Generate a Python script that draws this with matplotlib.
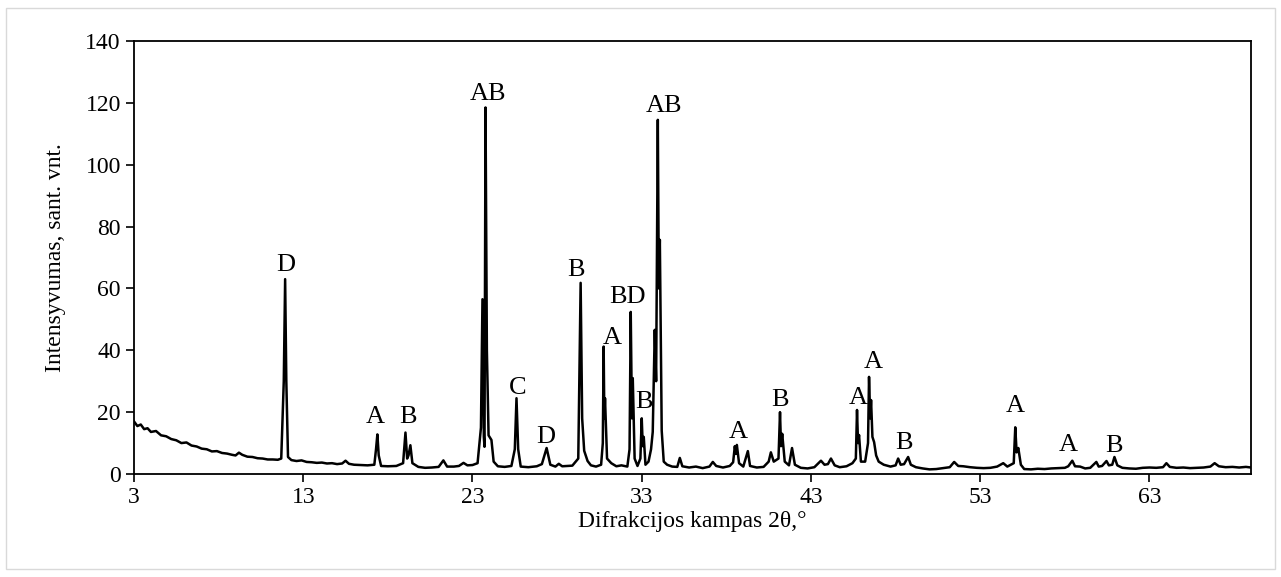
import matplotlib
matplotlib.use("Agg")
import matplotlib.pyplot as plt
from matplotlib.patches import Rectangle

plt.rcParams['font.family'] = ['Liberation Serif', 'DejaVu Serif']

# diffractogram trace (2theta, intensity)
two_theta = [
    3.0, 3.2, 3.4, 3.6, 3.8, 4.0, 4.3, 4.6, 4.9, 5.2, 5.5, 5.8, 6.1, 6.4, 6.7,
    7.0, 7.3, 7.6, 7.9, 8.2, 8.5, 8.8, 9.0, 9.2, 9.4, 9.7, 10.0, 10.3, 10.6,
    10.9, 11.2, 11.5, 11.7, 11.85, 11.93, 12.0, 12.1, 12.3, 12.6, 12.9, 13.2,
    13.5, 13.8, 14.1, 14.4, 14.7, 15.0, 15.3, 15.5, 15.7, 16.0, 16.4, 16.8,
    17.2, 17.3, 17.38, 17.46, 17.6, 18.0, 18.5, 18.9, 19.04, 19.14, 19.22,
    19.33, 19.45, 19.8, 20.2, 20.6, 21.0, 21.28, 21.5, 21.9, 22.2, 22.47,
    22.7, 23.0, 23.3, 23.5, 23.59, 23.67, 23.71, 23.77, 23.85, 23.95, 24.12,
    24.25, 24.5, 24.9, 25.3, 25.5, 25.6, 25.7, 25.85, 26.3, 26.8, 27.1,
    27.38, 27.6, 27.9, 28.1, 28.3, 28.6, 28.9, 29.25, 29.39, 29.48, 29.6,
    29.8, 30.0, 30.3, 30.6, 30.7, 30.75, 30.79, 30.83, 30.95, 31.2, 31.5,
    31.8, 32.15, 32.28, 32.35, 32.42, 32.47, 32.58, 32.75, 32.92, 33.0, 33.06,
    33.12, 33.22, 33.4, 33.55, 33.65, 33.71, 33.77, 33.85, 33.95, 34.01,
    34.07, 34.18, 34.3, 34.5, 34.8, 35.1, 35.25, 35.4, 35.8, 36.2, 36.6,
    37.0, 37.2, 37.4, 37.8, 38.2, 38.4, 38.5, 38.56, 38.62, 38.75, 39.0,
    39.27, 39.4, 39.8, 40.2, 40.5, 40.63, 40.8, 41.08, 41.17, 41.23, 41.3,
    41.45, 41.7, 41.88, 42.05, 42.4, 42.8, 43.2, 43.59, 43.8, 44.0, 44.18,
    44.4, 44.7, 45.1, 45.45, 45.65, 45.72, 45.78, 45.84, 45.95, 46.2, 46.37,
    46.43, 46.5, 46.55, 46.63, 46.73, 46.85, 47.0, 47.3, 47.7, 48.0, 48.15,
    48.3, 48.5, 48.74, 48.9, 49.2, 49.6, 50.0, 50.4, 50.8, 51.2, 51.46, 51.7,
    52.0, 52.4, 52.8, 53.2, 53.6, 54.0, 54.36, 54.6, 54.98, 55.07, 55.15,
    55.25, 55.4, 55.6, 56.0, 56.4, 56.8, 57.2, 57.6, 58.0, 58.2, 58.44, 58.6,
    58.9, 59.2, 59.5, 59.86, 60.0, 60.2, 60.46, 60.6, 60.8, 60.93, 61.1,
    61.4, 61.8, 62.2, 62.6, 63.0, 63.4, 63.8, 64.0, 64.2, 64.6, 65.0, 65.4,
    65.8, 66.2, 66.6, 66.85, 67.1, 67.5, 67.9, 68.3, 68.7, 69.0,
]
intensity = [
    17.0, 15.5, 16.0, 14.5, 14.8, 13.6, 13.9, 12.5, 12.2, 11.3, 10.9, 10.0,
    10.2, 9.2, 8.9, 8.2, 8.0, 7.3, 7.4, 6.8, 6.6, 6.2, 6.0, 6.9, 6.2, 5.6,
    5.5, 5.1, 5.0, 4.7, 4.7, 4.6, 5.0, 30.0, 63.0, 30.0, 5.5, 4.5, 4.2, 4.4,
    3.9, 3.8, 3.6, 3.7, 3.4, 3.5, 3.2, 3.4, 4.3, 3.3, 3.0, 2.9, 2.8,
    3.0, 8.0, 12.8, 6.0, 2.6, 2.5, 2.6, 3.5, 13.4, 5.0, 6.0,
    9.3, 3.5, 2.3, 2.0, 2.1, 2.3, 4.4, 2.4, 2.4, 2.6, 3.6,
    2.8, 2.9, 3.5, 15.0, 56.5, 12.0, 8.8, 118.5, 40.0, 12.5, 11.0,
    4.0, 2.5, 2.3, 2.6, 8.0, 24.5, 8.0, 2.4, 2.2, 2.5, 3.2,
    8.4, 3.0, 2.4, 3.3, 2.5, 2.6, 2.7, 5.0, 61.8, 18.0, 7.5,
    4.2, 2.8, 2.4, 3.0, 10.0, 41.2, 18.0, 24.5, 5.0, 3.5, 2.5,
    2.8, 2.4, 8.0, 52.4, 18.0, 31.0, 5.0, 2.6, 5.0, 18.0, 9.0,
    12.0, 3.0, 4.0, 8.0, 13.6, 30.0, 46.6, 30.0, 114.5, 60.0,
    75.7, 14.0, 4.0, 3.0, 2.4, 2.3, 5.2, 2.5, 2.1, 2.4, 1.9,
    2.4, 3.9, 2.6, 2.1, 2.6, 3.8, 9.0, 6.5, 9.4, 3.5, 2.4,
    7.4, 2.6, 2.1, 2.3, 4.0, 7.0, 4.0, 5.0, 20.0, 9.0, 13.0,
    4.0, 2.8, 8.4, 3.0, 2.0, 1.8, 2.2, 4.3, 3.0, 3.2, 5.0,
    2.8, 2.2, 2.5, 3.5, 5.0, 20.7, 10.0, 12.6, 4.0, 4.0, 10.0,
    31.4, 18.0, 23.9, 12.0, 10.3, 6.0, 4.0, 3.0, 2.4, 2.8, 5.0,
    3.0, 3.2, 5.5, 3.0, 2.2, 1.8, 1.5, 1.6, 1.9, 2.2, 3.9, 2.6,
    2.5, 2.2, 2.0, 1.9, 2.0, 2.4, 3.5, 2.4, 3.5, 15.1, 7.0,
    8.4, 3.0, 1.6, 1.5, 1.7, 1.6, 1.8, 1.9, 2.0, 2.5, 4.3, 2.5,
    2.4, 1.8, 2.0, 3.9, 2.4, 2.6, 4.2, 2.8, 3.0, 5.5, 2.8,
    2.0, 1.8, 1.7, 2.0, 2.1, 2.0, 2.2, 3.5, 2.3, 2.0, 2.1, 1.9,
    2.0, 2.1, 2.4, 3.5, 2.5, 2.2, 2.3, 2.1, 2.3, 2.1,
]

# phase labels above peaks
label_text = ['D', 'A', 'B', 'AB', 'C', 'D', 'B', 'A', 'BD', 'B', 'AB',
              'A', 'B', 'A', 'A', 'B', 'A', 'A', 'B']
label_x = [11.99, 17.26, 19.21, 23.89, 25.66, 27.32, 29.09, 31.28, 32.17,
           33.12, 34.30, 38.68, 41.17, 45.78, 46.67, 48.50, 55.07, 58.21,
           60.93]
label_y = [65.6, 16.5, 16.5, 121.0, 25.9, 10.0, 64.0, 42.0, 55.3, 21.3,
           117.0, 11.6, 22.0, 22.6, 34.3, 8.0, 20.0, 7.4, 7.1]

x_ticks = [3, 13, 23, 33, 43, 53, 63]
y_ticks = [0, 20, 40, 60, 80, 100, 120, 140]

fig = plt.figure(figsize=(12.81, 5.77), dpi=100)
ax = fig.add_axes([0.1046, 0.1785, 0.872, 0.7505])

ax.plot(two_theta, intensity, color='black', lw=1.8)

for t, lx, ly in zip(label_text, label_x, label_y):
    ax.text(lx, ly, t, ha='center', va='baseline', fontsize=19)

ax.set_xlim(3, 69)
ax.set_ylim(0, 140)
ax.set_xticks(x_ticks)
ax.set_yticks(y_ticks)
ax.tick_params(direction='out', length=6, width=1.2, labelsize=17)
for s in ax.spines.values():
    s.set_linewidth(1.3)

ax.set_xlabel("Difrakcijos kampas 2θ,°", fontsize=17, labelpad=2)
ax.set_ylabel("Intensyvumas, sant. vnt.", fontsize=17, labelpad=14)

fig.patches.append(Rectangle((0.005, 0.014), 0.99, 0.972, transform=fig.transFigure,
                             fill=False, edgecolor='#d9d9d9', lw=1))

fig.savefig("out.png", dpi=100)
